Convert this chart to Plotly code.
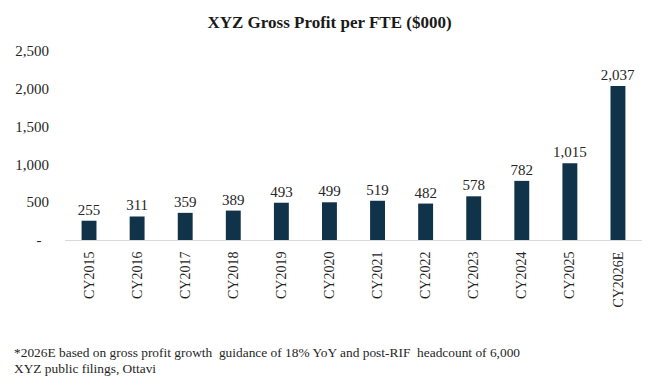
import plotly.graph_objects as go

categories = ["CY2015", "CY2016", "CY2017", "CY2018", "CY2019", "CY2020",
              "CY2021", "CY2022", "CY2023", "CY2024", "CY2025", "CY2026E"]
gp_per_fte = [255, 311, 359, 389, 493, 499, 519, 482, 578, 782, 1015, 2037]
y_tick_vals = [0, 500, 1000, 1500, 2000, 2500]
y_tick_text = ["-\u00a0\u00a0", "500", "1,000", "1,500", "2,000", "2,500"]
title_text = "<b>XYZ Gross Profit per FTE ($000)</b>"
footnote_1 = "*2026E based on gross profit growth\u00a0 guidance of 18% YoY and post-RIF\u00a0 headcount of 6,000"
footnote_2 = "XYZ public filings, Ottavi"

FONT = "Liberation Serif"
W, H = 659, 385
mt, mb, ml, mr = 51, 145, 65, 17
ph = H - mt - mb

fig = go.Figure(go.Bar(
    x=categories, y=gp_per_fte,
    marker=dict(color="#11334a", line=dict(width=0)),
    texttemplate="%{y:,}", textposition="outside",
    textfont=dict(family=FONT, size=15, color="#262626"),
    constraintext="none", cliponaxis=False,
))

fig.update_layout(
    width=W, height=H,
    margin=dict(t=mt, b=mb, l=ml, r=mr),
    paper_bgcolor="white", plot_bgcolor="white",
    bargap=0.69,
    showlegend=False,
    title=dict(text=title_text, x=0.5, xref="container", xanchor="center",
               y=1 - 22 / H, yref="container", yanchor="middle",
               font=dict(family=FONT, size=17, color="#1a1a1a")),
    xaxis=dict(tickangle=-90, showline=True, linecolor="#d9d9d9", linewidth=1,
               showgrid=False, ticks="", ticklabelstandoff=5,
               tickfont=dict(family=FONT, size=14, color="#262626")),
    yaxis=dict(range=[0, 2500], tickvals=y_tick_vals, ticktext=y_tick_text,
               showgrid=False, zeroline=False, showline=False, ticks="",
               ticklabelstandoff=15,
               tickfont=dict(family=FONT, size=15, color="#262626")),
    annotations=[
        dict(text=footnote_1, xref="paper", yref="paper",
             x=-(ml - 12) / (W - ml - mr), xanchor="left",
             y=-(352 - (H - mb)) / ph, yanchor="middle",
             showarrow=False, font=dict(family=FONT, size=13.4, color="#262626")),
        dict(text=footnote_2, xref="paper", yref="paper",
             x=-(ml - 12) / (W - ml - mr), xanchor="left",
             y=-(368 - (H - mb)) / ph, yanchor="middle",
             showarrow=False, font=dict(family=FONT, size=13.4, color="#262626")),
    ],
)

fig.write_html("out.html", config={"displayModeBar": False},
               post_script="document.body.style.margin='0';document.body.style.padding='0';")
